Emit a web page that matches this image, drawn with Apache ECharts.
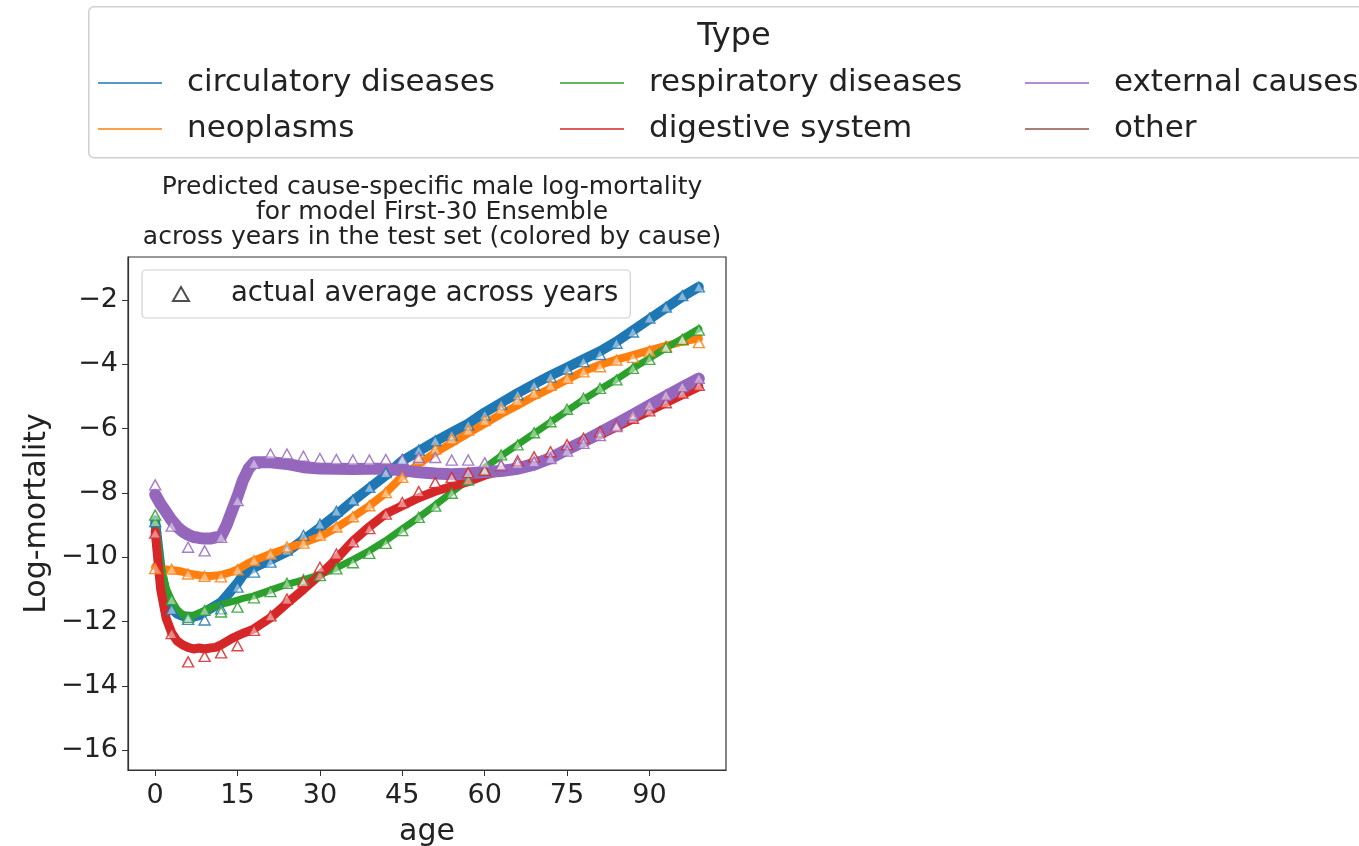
<!DOCTYPE html>
<html>
<head>
<meta charset="utf-8">
<script src="https://cdn.jsdelivr.net/npm/echarts@6/dist/echarts.min.js"></script>
<style>
  html, body { margin: 0; padding: 0; background: #fff; }
  #chart { width: 1359px; height: 846px; }
</style>
</head>
<body>
<div id="chart"></div>
<script>
// cause names (legend order)
const causes = ['circulatory diseases', 'neoplasms', 'respiratory diseases', 'digestive system', 'external causes', 'other'];
const colors = ['#1f77b4', '#ff7f0e', '#2ca02c', '#d62728', '#9467bd', '#8c564b'];

// ages of the predicted curves
const predAges = [0, 1, 2, 3, 4, 5, 6, 7, 8, 9, 10, 11, 12, 13, 14, 15, 16, 17, 18,
  21, 24, 27, 30, 33, 36, 39, 42, 45, 48, 51, 54, 57, 60, 63, 66, 69, 72, 75, 78, 81, 84, 87, 90, 93, 96, 99];

// predicted log-mortality (band centre) per cause
const predCirculatory = [-8.9, -10.4, -11.2, -11.6, -11.75, -11.82, -11.85, -11.85, -11.8, -11.7, -11.6, -11.5, -11.4, -11.2, -11.0, -10.8, -10.55, -10.4, -10.32,
  -10.08, -9.83, -9.46, -9.08, -8.68, -8.25, -7.85, -7.45, -7.0, -6.7, -6.4, -6.12, -5.85, -5.5, -5.2, -4.9, -4.62, -4.35, -4.1, -3.85, -3.6, -3.3, -2.95, -2.6, -2.25, -1.9, -1.6];
const predNeoplasms = [-10.3, -10.35, -10.38, -10.4, -10.42, -10.45, -10.5, -10.53, -10.56, -10.58, -10.58, -10.57, -10.55, -10.5, -10.45, -10.38, -10.28, -10.18, -10.1,
  -9.9, -9.72, -9.55, -9.36, -9.08, -8.75, -8.4, -8.0, -7.48, -7.1, -6.75, -6.45, -6.15, -5.85, -5.55, -5.28, -5.0, -4.75, -4.48, -4.22, -4.02, -3.86, -3.72, -3.57, -3.43, -3.3, -3.2];
const predRespiratory = [-8.8, -10.2, -10.95, -11.35, -11.62, -11.78, -11.83, -11.8, -11.72, -11.65, -11.58, -11.52, -11.47, -11.42, -11.38, -11.33, -11.28, -11.24, -11.2,
  -11.02, -10.84, -10.7, -10.54, -10.33, -10.07, -9.8, -9.48, -9.12, -8.76, -8.38, -7.98, -7.6, -7.22, -6.85, -6.5, -6.15, -5.8, -5.45, -5.1, -4.78, -4.47, -4.13, -3.82, -3.5, -3.2, -2.9];
const predDigestive = [-9.2, -11.0, -11.9, -12.35, -12.6, -12.72, -12.8, -12.85, -12.82, -12.85, -12.82, -12.8, -12.72, -12.62, -12.52, -12.44, -12.36, -12.3, -12.22,
  -11.88, -11.43, -11.0, -10.55, -10.05, -9.5, -9.05, -8.65, -8.4, -8.15, -7.95, -7.8, -7.65, -7.45, -7.32, -7.2, -7.05, -6.9, -6.7, -6.45, -6.2, -5.95, -5.7, -5.45, -5.2, -4.95, -4.7];
const predExternal = [-8.05, -8.35, -8.6, -8.85, -9.05, -9.2, -9.3, -9.37, -9.4, -9.42, -9.42, -9.38, -9.35, -9.0, -8.55, -8.1, -7.6, -7.25, -7.05,
  -7.05, -7.1, -7.2, -7.24, -7.25, -7.26, -7.25, -7.25, -7.3, -7.36, -7.4, -7.42, -7.4, -7.35, -7.32, -7.25, -7.12, -6.92, -6.65, -6.4, -6.12, -5.85, -5.57, -5.28, -5.0, -4.72, -4.45];

// ages of the actual averages (triangles)
const actualAges = [0, 3, 6, 9, 12, 15, 18, 21, 24, 27, 30, 33, 36, 39, 42, 45, 48, 51, 54, 57, 60, 63, 66, 69, 72, 75, 78, 81, 84, 87, 90, 93, 96, 99];
const actualCirculatory = [-8.89, -11.62, -11.93, -11.95, -11.6, -10.93, -10.46, -10.15, -9.78, -9.32, -8.97, -8.57, -8.22, -7.83, -7.37, -6.96, -6.67, -6.38, -6.2, -5.89,
  -5.58, -5.25, -4.95, -4.66, -4.4, -4.15, -3.92, -3.7, -3.35, -3.0, -2.57, -2.23, -1.87, -1.6];
const actualNeoplasms = [-10.35, -10.37, -10.52, -10.59, -10.61, -10.39, -10.1, -9.9, -9.68, -9.56, -9.31, -9.06, -8.74, -8.4, -7.99, -7.52, -6.97, -6.64, -6.32, -6.05,
  -5.75, -5.4, -5.13, -4.9, -4.66, -4.44, -4.24, -4.08, -3.87, -3.79, -3.59, -3.44, -3.25, -3.33];
const actualRespiratory = [-8.69, -11.32, -11.87, -11.65, -11.7, -11.55, -11.26, -11.07, -10.81, -10.7, -10.57, -10.36, -10.17, -9.88, -9.57, -9.17, -8.76, -8.41, -8.01, -7.6,
  -7.27, -6.82, -6.51, -6.13, -5.79, -5.4, -5.06, -4.75, -4.49, -4.13, -3.85, -3.48, -3.23, -2.94];
const actualDigestive = [-9.25, -12.37, -13.25, -13.08, -12.97, -12.75, -12.27, -11.82, -11.3, -10.76, -10.31, -9.9, -9.52, -9.11, -8.66, -8.3, -7.96, -7.68, -7.52, -7.37,
  -7.3, -7.15, -7.0, -6.88, -6.72, -6.5, -6.3, -6.1, -5.9, -5.68, -5.45, -5.2, -4.9, -4.66];
const actualExternal = [-7.75, -9.03, -9.69, -9.8, -9.38, -8.24, -7.08, -6.79, -6.79, -6.86, -6.93, -6.96, -6.98, -6.98, -6.96, -6.96, -6.9, -6.9, -6.98, -6.98,
  -7.06, -7.13, -7.08, -7.03, -6.93, -6.7, -6.46, -6.22, -5.94, -5.58, -5.27, -4.96, -4.7, -4.44];

// axis ticks
const xTicks = [0, 15, 30, 45, 60, 75, 90];
const yTicks = [-16, -14, -12, -10, -8, -6, -4, -2];

const predList = [predCirculatory, predNeoplasms, predRespiratory, predDigestive, predExternal];
const actualList = [actualCirculatory, actualNeoplasms, actualRespiratory, actualDigestive, actualExternal];
const bandWidths = [10, 8, 7, 9, 12];

const FONT = 'DejaVu Sans';
const chart = echarts.init(document.getElementById('chart'));

const series = [];
predList.forEach((vals, i) => {
  series.push({
    name: causes[i],
    type: 'line',
    data: predAges.map((a, k) => [a, vals[k]]),
    showSymbol: false,
    lineStyle: { color: colors[i], width: bandWidths[i], join: 'round', cap: 'round' },
    itemStyle: { color: colors[i] },
    z: 2 + i,
    silent: true
  });
});
series.push({
  name: 'other', type: 'line', data: [],
  lineStyle: { color: colors[5] }, itemStyle: { color: colors[5] }
});
actualList.forEach((vals, i) => {
  series.push({
    name: 'actual ' + causes[i],
    type: 'scatter',
    data: actualAges.map((a, k) => [a, vals[k]]),
    symbol: 'triangle',
    symbolSize: [11, 10],
    itemStyle: { color: 'rgba(255,255,255,0.55)', borderColor: colors[i], borderWidth: 1.4, opacity: 0.85 },
    z: 10,
    silent: true
  });
});
series.push({
  name: 'actual average across years', type: 'scatter', data: [],
  symbol: 'triangle',
  itemStyle: { color: '#ffffff', borderColor: '#222', borderWidth: 1.5 }
});

function legendCol(names, cols, left) {
  return {
    orient: 'vertical',
    left: left, top: 65,
    icon: 'rect',
    itemWidth: 64, itemHeight: 2,
    itemGap: 10,
    padding: 0,
    selectedMode: false,
    textStyle: { fontFamily: FONT, fontSize: 31, color: '#222', lineHeight: 36, padding: [0, 0, 0, 20] },
    data: names.map((n, k) => ({ name: n, itemStyle: { color: cols[k], opacity: 0.75 } }))
  };
}

const option = {
  animation: false,
  backgroundColor: '#ffffff',
  title: [
    {
      text: 'Predicted cause-specific male log-mortality\nfor model First-30 Ensemble\nacross years in the test set (colored by cause)',
      left: 427, top: 170, textAlign: 'center',
      textStyle: { fontFamily: FONT, fontSize: 25, fontWeight: 'normal', color: '#222', lineHeight: 25 }
    },
    {
      text: 'Type', left: 729, top: 16, textAlign: 'center',
      textStyle: { fontFamily: FONT, fontSize: 32, fontWeight: 'normal', color: '#222' }
    }
  ],
  graphic: [{
    type: 'rect', left: 88, top: 6, z: -1,
    shape: { width: 1300, height: 151, r: 5 },
    style: { fill: '#fff', stroke: '#d0d0d0', lineWidth: 1.5 }
  }],
  legend: [
    legendCol(['circulatory diseases', 'neoplasms'], [colors[0], colors[1]], 98),
    legendCol(['respiratory diseases', 'digestive system'], [colors[2], colors[3]], 560),
    legendCol(['external causes', 'other'], [colors[4], colors[5]], 1025),
    {
      left: 142, top: 270,
      itemWidth: 16, itemHeight: 14,
      padding: [10, 12, 10, 30],
      borderColor: '#d0d0d0', borderWidth: 1.2, borderRadius: 4,
      selectedMode: false,
      textStyle: { fontFamily: FONT, fontSize: 27.5, color: '#222', padding: [0, 0, 0, 37] },
      data: ['actual average across years']
    }
  ],
  grid: {
    left: 128, top: 257, width: 598, height: 513,
    outerBoundsMode: 'none',
    show: true, borderColor: '#333', borderWidth: 1.2, backgroundColor: 'transparent'
  },
  xAxis: {
    type: 'value', min: -4.95, max: 103.95,
    name: 'age', nameLocation: 'middle', nameGap: 47,
    nameTextStyle: { fontFamily: FONT, fontSize: 30, color: '#222' },
    axisLine: { show: true, onZero: false, lineStyle: { color: '#333', width: 1.2 } },
    axisTick: { show: true, length: 6, customValues: xTicks, lineStyle: { color: '#333' } },
    axisLabel: { customValues: xTicks, fontFamily: FONT, fontSize: 27, color: '#222', margin: 12 },
    splitLine: { show: false }
  },
  yAxis: {
    type: 'value', min: -16.61, max: -0.67,
    name: 'Log-mortality', nameLocation: 'middle', nameGap: 76,
    nameTextStyle: { fontFamily: FONT, fontSize: 30, color: '#222' },
    axisLine: { show: true, onZero: false, lineStyle: { color: '#333', width: 1.2 } },
    axisTick: { show: true, length: 6, customValues: yTicks, lineStyle: { color: '#333' } },
    axisLabel: {
      customValues: yTicks, fontFamily: FONT, fontSize: 27, color: '#222', margin: 10,
      formatter: v => String(v).replace('-', '\u2212')
    },
    splitLine: { show: false }
  },
  series: series
};

chart.setOption(option);
</script>
</body>
</html>
